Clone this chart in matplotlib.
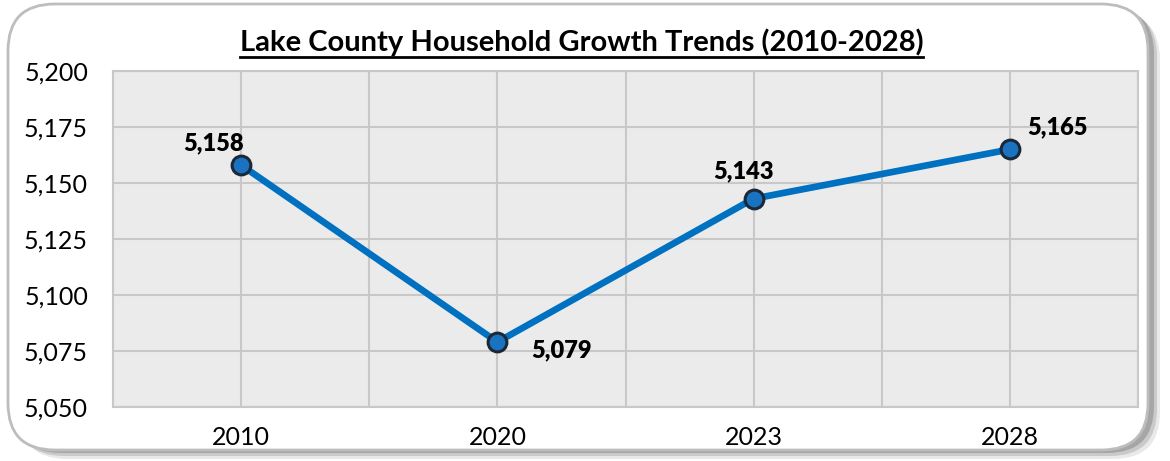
import matplotlib.pyplot as plt
from matplotlib.patches import FancyBboxPatch
from matplotlib.ticker import FuncFormatter, MultipleLocator

years = ["2010", "2020", "2023", "2028"]
households = [5158, 5079, 5143, 5165]
# label offsets in points (dx, dy)
label_offsets = [(-20, 16), (46, -6), (-7, 20), (34, 16)]

plt.rcParams['font.family'] = ['Lato', 'DejaVu Sans']

fig = plt.figure(figsize=(11.7, 4.61), dpi=100)

# rounded frame with shadow
W, H = 1170, 461
for i, a in enumerate([0.15, 0.25, 0.4]):
    off = 12 - 3 * i
    sh = FancyBboxPatch(((8 + off) / W, (8 - off + 6) / H), 1140 / W, 446 / H,
                        boxstyle="round,pad=0,rounding_size=0.04",
                        transform=fig.transFigure, facecolor="#707070",
                        alpha=a, edgecolor="none", mutation_aspect=W / H,
                        zorder=0)
    fig.patches.append(sh)
frame = FancyBboxPatch((8 / W, 11 / H), 1140 / W, 446 / H,
                       boxstyle="round,pad=0,rounding_size=0.04",
                       transform=fig.transFigure, facecolor="white",
                       edgecolor="#bdbdbd", linewidth=2,
                       mutation_aspect=W / H, zorder=1)
fig.patches.append(frame)

ax = fig.add_axes([113 / W, 1 - 407 / H, (1138 - 113) / W, (407 - 71) / H])
ax.set_zorder(2)
ax.set_facecolor("#ebebeb")

x = list(range(len(years)))
ax.plot(x, households, color="#0070c0", linewidth=4.8, zorder=3,
        solid_capstyle="round")
ax.plot(x, households, linestyle="none", marker="o", markersize=13.5,
        markerfacecolor="#1a73c0", markeredgecolor="#1b2838",
        markeredgewidth=2.2, zorder=4)

for xi, v, (dx, dy) in zip(x, households, label_offsets):
    ax.annotate(f"{v:,}", (xi, v), xytext=(dx, dy), textcoords="offset points",
                ha="center", va="center", fontsize=17, fontweight="heavy",
                color="black", zorder=5)

ax.set_xlim(-0.5, 3.5)
ax.set_ylim(5050, 5200)
ax.set_xticks(x)
ax.set_xticklabels(years)
ax.xaxis.set_minor_locator(MultipleLocator(0.5))
ax.yaxis.set_major_locator(MultipleLocator(25))
ax.yaxis.set_major_formatter(FuncFormatter(lambda v, p: f"{int(v):,}"))

ax.grid(True, which="both", axis="x", color="#c8c8c8", linewidth=1.5)
ax.grid(True, which="major", axis="y", color="#c8c8c8", linewidth=1.5)
ax.set_axisbelow(True)
ax.tick_params(axis="both", which="both", length=0, labelsize=18)
ax.tick_params(axis="x", pad=14)
ax.tick_params(axis="y", pad=18)
for s in ax.spines.values():
    s.set_color("#c8c8c8")
    s.set_linewidth(1.5)

title = fig.text(0.497, 1 - 42 / H, "Lake County Household Growth Trends (2010-2028)",
                 ha="center", va="center", fontsize=21, fontweight="bold",
                 zorder=5)
fig.canvas.draw()
bb = title.get_window_extent().transformed(fig.transFigure.inverted())
uy = 1 - 57 / H
fig.add_artist(plt.Line2D([bb.x0, bb.x1], [uy, uy], color="black",
                          linewidth=2, zorder=5))

fig.savefig("out.png", dpi=100)
